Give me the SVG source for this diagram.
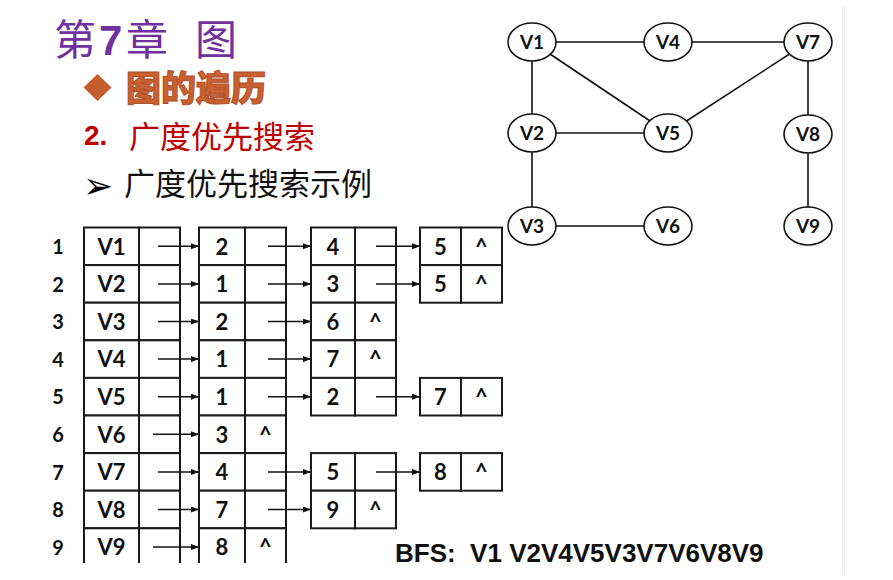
<svg xmlns="http://www.w3.org/2000/svg" width="893" height="580" viewBox="0 0 893 580">
<style>
.cjk{font-family:"Noto Sans CJK SC","Noto Sans",sans-serif}
.lbl{font-family:Lato,"Liberation Sans",sans-serif;font-weight:bold;font-size:22px;text-anchor:middle;fill:#111}
.rl{font-family:Lato,"Liberation Sans",sans-serif;font-weight:bold;font-size:20px;text-anchor:middle;fill:#111}
.gl{font-family:Lato,"Liberation Sans",sans-serif;font-weight:bold;font-size:19px;text-anchor:middle;fill:#111}
.cell{fill:#fff;stroke:#1a1a1a;stroke-width:2}
.edge{stroke:#111;stroke-width:1.6;fill:none}
.arr{stroke:#111;stroke-width:1.5;fill:none;marker-end:url(#ah)}
.vx{fill:#fff;stroke:#111;stroke-width:1.6}
</style>
<defs>
<marker id="ah" markerWidth="8" markerHeight="6" refX="8" refY="3" orient="auto" markerUnits="userSpaceOnUse"><path d="M0,0L8,3L0,6z" fill="#111"/></marker>
<clipPath id="clip"><rect x="0" y="0" width="893" height="563"/></clipPath>
</defs>
<rect width="893" height="580" fill="#fff"/>
<rect x="842" y="7" width="3" height="568" fill="#efefef"/>

<g id="title">
<text class="cjk" y="55" font-size="42" fill="#7030A0"><tspan x="54">第</tspan><tspan x="99" font-family="Liberation Sans,sans-serif" font-weight="bold">7</tspan><tspan x="126">章</tspan><tspan x="195">图</tspan></text>
</g>
<g id="heading1">
<polygon points="97.5,74 111.5,87.5 97.5,101 83.5,87.5" fill="#C65D2E"/>
<text class="cjk" x="126" y="101" font-size="35" font-weight="900" fill="#C8602F" stroke="#B0502A" stroke-width="1">图的遍历</text>
</g>
<g id="heading2">
<text x="84" y="145" font-family="Liberation Sans,sans-serif" font-weight="bold" font-size="28" fill="#C00000">2.</text>
<text class="cjk" x="129" y="148" font-size="31" fill="#C00000">广度优先搜索</text>
</g>
<g id="heading3">
<text x="83" y="198" font-family="DejaVu Sans,sans-serif" font-size="36" fill="#000">➢</text>
<text class="cjk" x="124" y="195" font-size="31" fill="#111">广度优先搜索示例</text>
</g>

<g id="graph-edges">
<line class="edge" x1="532" y1="42" x2="668" y2="42"/>
<line class="edge" x1="668" y1="42" x2="808" y2="42"/>
<line class="edge" x1="532" y1="42" x2="532" y2="133"/>
<line class="edge" x1="532" y1="42" x2="668" y2="133"/>
<line class="edge" x1="808" y1="42" x2="668" y2="133"/>
<line class="edge" x1="532" y1="133" x2="668" y2="133"/>
<line class="edge" x1="808" y1="42" x2="808" y2="134"/>
<line class="edge" x1="532" y1="133" x2="532" y2="226"/>
<line class="edge" x1="532" y1="226" x2="668" y2="226"/>
<line class="edge" x1="808" y1="134" x2="808" y2="226"/>
</g>
<g id="gV1"><ellipse class="vx" cx="532" cy="42" rx="24" ry="19"/><text class="gl" x="532" y="49">V1</text></g>
<g id="gV4"><ellipse class="vx" cx="668" cy="42" rx="24" ry="19"/><text class="gl" x="668" y="49">V4</text></g>
<g id="gV7"><ellipse class="vx" cx="808" cy="42" rx="24" ry="19"/><text class="gl" x="808" y="49">V7</text></g>
<g id="gV2"><ellipse class="vx" cx="532" cy="133" rx="24" ry="19"/><text class="gl" x="532" y="140">V2</text></g>
<g id="gV5"><ellipse class="vx" cx="668" cy="133" rx="24" ry="19"/><text class="gl" x="668" y="140">V5</text></g>
<g id="gV8"><ellipse class="vx" cx="808" cy="134" rx="24" ry="19"/><text class="gl" x="808" y="141">V8</text></g>
<g id="gV3"><ellipse class="vx" cx="532" cy="226" rx="24" ry="19"/><text class="gl" x="532" y="233">V3</text></g>
<g id="gV6"><ellipse class="vx" cx="668" cy="226" rx="24" ry="19"/><text class="gl" x="668" y="233">V6</text></g>
<g id="gV9"><ellipse class="vx" cx="808" cy="226" rx="24" ry="19"/><text class="gl" x="808" y="233">V9</text></g>

<g id="table" clip-path="url(#clip)">
<g id="row-labels">
<text class="rl" x="58" y="254">1</text>
<text class="rl" x="58" y="291.6">2</text>
<text class="rl" x="58" y="329.2">3</text>
<text class="rl" x="58" y="366.8">4</text>
<text class="rl" x="58" y="404.4">5</text>
<text class="rl" x="58" y="442">6</text>
<text class="rl" x="58" y="479.6">7</text>
<text class="rl" x="58" y="517.2">8</text>
<text class="rl" x="58" y="554.8">9</text>
</g>
<g id="h1"><rect class="cell" x="84" y="227.5" width="55" height="37.6"/><rect class="cell" x="139" y="227.5" width="41" height="37.6"/><text class="lbl" x="111.5" y="254.5">V1</text></g>
<g id="h2"><rect class="cell" x="84" y="265.1" width="55" height="37.6"/><rect class="cell" x="139" y="265.1" width="41" height="37.6"/><text class="lbl" x="111.5" y="292.1">V2</text></g>
<g id="h3"><rect class="cell" x="84" y="302.7" width="55" height="37.6"/><rect class="cell" x="139" y="302.7" width="41" height="37.6"/><text class="lbl" x="111.5" y="329.7">V3</text></g>
<g id="h4"><rect class="cell" x="84" y="340.3" width="55" height="37.6"/><rect class="cell" x="139" y="340.3" width="41" height="37.6"/><text class="lbl" x="111.5" y="367.3">V4</text></g>
<g id="h5"><rect class="cell" x="84" y="377.9" width="55" height="37.6"/><rect class="cell" x="139" y="377.9" width="41" height="37.6"/><text class="lbl" x="111.5" y="404.9">V5</text></g>
<g id="h6"><rect class="cell" x="84" y="415.5" width="55" height="37.6"/><rect class="cell" x="139" y="415.5" width="41" height="37.6"/><text class="lbl" x="111.5" y="442.5">V6</text></g>
<g id="h7"><rect class="cell" x="84" y="453.1" width="55" height="37.6"/><rect class="cell" x="139" y="453.1" width="41" height="37.6"/><text class="lbl" x="111.5" y="480.1">V7</text></g>
<g id="h8"><rect class="cell" x="84" y="490.7" width="55" height="37.6"/><rect class="cell" x="139" y="490.7" width="41" height="37.6"/><text class="lbl" x="111.5" y="517.7">V8</text></g>
<g id="h9"><rect class="cell" x="84" y="528.3" width="55" height="37.6"/><rect class="cell" x="139" y="528.3" width="41" height="37.6"/><text class="lbl" x="111.5" y="555.3">V9</text></g>
<g id="n1a"><rect class="cell" x="199" y="227.5" width="46" height="37.6"/><rect class="cell" x="245" y="227.5" width="41" height="37.6"/><text class="lbl" x="222" y="254.5">2</text></g>
<g id="n2a"><rect class="cell" x="199" y="265.1" width="46" height="37.6"/><rect class="cell" x="245" y="265.1" width="41" height="37.6"/><text class="lbl" x="222" y="292.1">1</text></g>
<g id="n3a"><rect class="cell" x="199" y="302.7" width="46" height="37.6"/><rect class="cell" x="245" y="302.7" width="41" height="37.6"/><text class="lbl" x="222" y="329.7">2</text></g>
<g id="n4a"><rect class="cell" x="199" y="340.3" width="46" height="37.6"/><rect class="cell" x="245" y="340.3" width="41" height="37.6"/><text class="lbl" x="222" y="367.3">1</text></g>
<g id="n5a"><rect class="cell" x="199" y="377.9" width="46" height="37.6"/><rect class="cell" x="245" y="377.9" width="41" height="37.6"/><text class="lbl" x="222" y="404.9">1</text></g>
<g id="n6a"><rect class="cell" x="199" y="415.5" width="46" height="37.6"/><rect class="cell" x="245" y="415.5" width="41" height="37.6"/><text class="lbl" x="222" y="442.5">3</text><text class="lbl" x="265.5" y="442.5">^</text></g>
<g id="n7a"><rect class="cell" x="199" y="453.1" width="46" height="37.6"/><rect class="cell" x="245" y="453.1" width="41" height="37.6"/><text class="lbl" x="222" y="480.1">4</text></g>
<g id="n8a"><rect class="cell" x="199" y="490.7" width="46" height="37.6"/><rect class="cell" x="245" y="490.7" width="41" height="37.6"/><text class="lbl" x="222" y="517.7">7</text></g>
<g id="n9a"><rect class="cell" x="199" y="528.3" width="46" height="37.6"/><rect class="cell" x="245" y="528.3" width="41" height="37.6"/><text class="lbl" x="222" y="555.3">8</text><text class="lbl" x="265.5" y="555.3">^</text></g>
<g id="n1b"><rect class="cell" x="311" y="227.5" width="44" height="37.6"/><rect class="cell" x="355" y="227.5" width="41" height="37.6"/><text class="lbl" x="333" y="254.5">4</text></g>
<g id="n2b"><rect class="cell" x="311" y="265.1" width="44" height="37.6"/><rect class="cell" x="355" y="265.1" width="41" height="37.6"/><text class="lbl" x="333" y="292.1">3</text></g>
<g id="n3b"><rect class="cell" x="311" y="302.7" width="44" height="37.6"/><rect class="cell" x="355" y="302.7" width="41" height="37.6"/><text class="lbl" x="333" y="329.7">6</text><text class="lbl" x="375.5" y="329.7">^</text></g>
<g id="n4b"><rect class="cell" x="311" y="340.3" width="44" height="37.6"/><rect class="cell" x="355" y="340.3" width="41" height="37.6"/><text class="lbl" x="333" y="367.3">7</text><text class="lbl" x="375.5" y="367.3">^</text></g>
<g id="n5b"><rect class="cell" x="311" y="377.9" width="44" height="37.6"/><rect class="cell" x="355" y="377.9" width="41" height="37.6"/><text class="lbl" x="333" y="404.9">2</text></g>
<g id="n7b"><rect class="cell" x="311" y="453.1" width="44" height="37.6"/><rect class="cell" x="355" y="453.1" width="41" height="37.6"/><text class="lbl" x="333" y="480.1">5</text></g>
<g id="n8b"><rect class="cell" x="311" y="490.7" width="44" height="37.6"/><rect class="cell" x="355" y="490.7" width="41" height="37.6"/><text class="lbl" x="333" y="517.7">9</text><text class="lbl" x="375.5" y="517.7">^</text></g>
<g id="n1c"><rect class="cell" x="420" y="227.5" width="41" height="37.6"/><rect class="cell" x="461" y="227.5" width="41" height="37.6"/><text class="lbl" x="440.5" y="254.5">5</text><text class="lbl" x="481.5" y="254.5">^</text></g>
<g id="n2c"><rect class="cell" x="420" y="265.1" width="41" height="37.6"/><rect class="cell" x="461" y="265.1" width="41" height="37.6"/><text class="lbl" x="440.5" y="292.1">5</text><text class="lbl" x="481.5" y="292.1">^</text></g>
<g id="n5c"><rect class="cell" x="420" y="377.9" width="41" height="37.6"/><rect class="cell" x="461" y="377.9" width="41" height="37.6"/><text class="lbl" x="440.5" y="404.9">7</text><text class="lbl" x="481.5" y="404.9">^</text></g>
<g id="n7c"><rect class="cell" x="420" y="453.1" width="41" height="37.6"/><rect class="cell" x="461" y="453.1" width="41" height="37.6"/><text class="lbl" x="440.5" y="480.1">8</text><text class="lbl" x="481.5" y="480.1">^</text></g>
</g>

<g id="connectors">
<line class="arr" x1="158" y1="246.3" x2="199" y2="246.3"/>
<line class="arr" x1="158" y1="283.9" x2="199" y2="283.9"/>
<line class="arr" x1="158" y1="321.5" x2="199" y2="321.5"/>
<line class="arr" x1="158" y1="359.1" x2="199" y2="359.1"/>
<line class="arr" x1="158" y1="396.7" x2="199" y2="396.7"/>
<line class="arr" x1="153" y1="434.3" x2="199" y2="434.3"/>
<line class="arr" x1="158" y1="471.9" x2="199" y2="471.9"/>
<line class="arr" x1="158" y1="509.5" x2="199" y2="509.5"/>
<line class="arr" x1="153" y1="547.1" x2="199" y2="547.1"/>
<line class="arr" x1="268" y1="246.3" x2="311" y2="246.3"/>
<line class="arr" x1="268" y1="283.9" x2="311" y2="283.9"/>
<line class="arr" x1="268" y1="321.5" x2="311" y2="321.5"/>
<line class="arr" x1="268" y1="359.1" x2="311" y2="359.1"/>
<line class="arr" x1="268" y1="396.7" x2="311" y2="396.7"/>
<line class="arr" x1="268" y1="471.9" x2="311" y2="471.9"/>
<line class="arr" x1="268" y1="509.5" x2="311" y2="509.5"/>
<line class="arr" x1="376" y1="246.3" x2="420" y2="246.3"/>
<line class="arr" x1="376" y1="283.9" x2="420" y2="283.9"/>
<line class="arr" x1="376" y1="396.7" x2="420" y2="396.7"/>
<line class="arr" x1="376" y1="471.9" x2="420" y2="471.9"/>
</g>

<g id="bfs">
<text x="395" y="562" font-family="Liberation Sans,Arial,sans-serif" font-weight="bold" font-size="26" fill="#111" style="white-space:pre">BFS:  V1 V2V4V5V3V7V6V8V9</text>
</g>
</svg>
